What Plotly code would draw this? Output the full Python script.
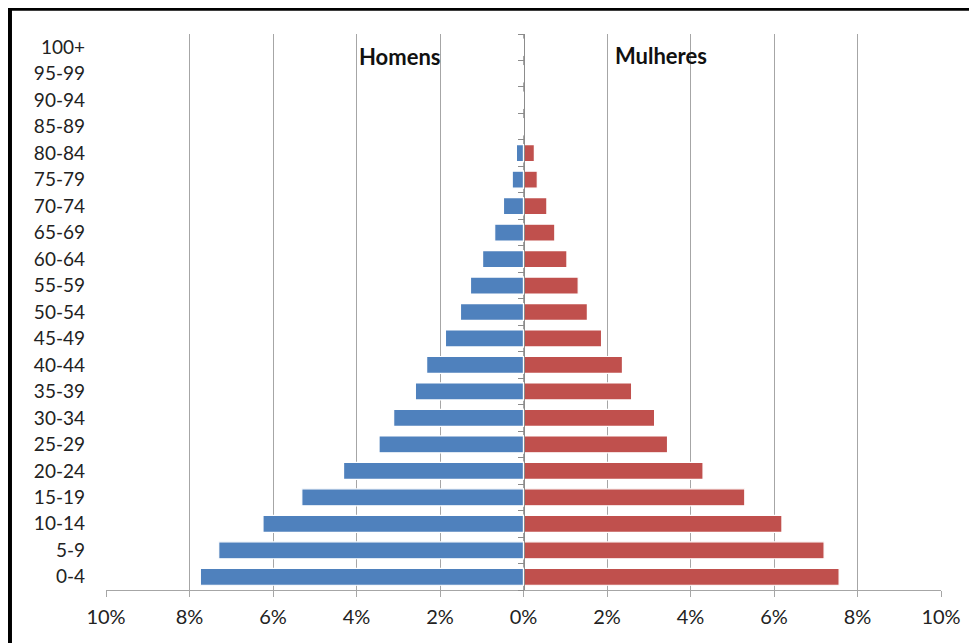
import plotly.graph_objects as go

age_groups = ["0-4", "5-9", "10-14", "15-19", "20-24", "25-29", "30-34", "35-39",
              "40-44", "45-49", "50-54", "55-59", "60-64", "65-69", "70-74", "75-79",
              "80-84", "85-89", "90-94", "95-99", "100+"]
homens = [7.74, 7.30, 6.24, 5.31, 4.31, 3.46, 3.11, 2.59, 2.32, 1.87, 1.51, 1.27,
          0.98, 0.69, 0.48, 0.27, 0.17, 0, 0, 0, 0]
mulheres = [7.56, 7.20, 6.19, 5.30, 4.30, 3.45, 3.14, 2.59, 2.37, 1.87, 1.53, 1.31,
            1.04, 0.75, 0.56, 0.33, 0.26, 0, 0, 0, 0]
x_ticks = [-10, -8, -6, -4, -2, 0, 2, 4, 6, 8, 10]
x_ticktext = ["10%", "8%", "6%", "4%", "2%", "0%", "2%", "4%", "6%", "8%", "10%"]

FONT = "Lato"
fig = go.Figure()
fig.add_trace(go.Bar(y=age_groups, x=[-v for v in homens], orientation="h",
                     name="Homens", marker=dict(color="#4F81BD", line=dict(color="white", width=1.2))))
fig.add_trace(go.Bar(y=age_groups, x=mulheres, orientation="h",
                     name="Mulheres", marker=dict(color="#C0504D", line=dict(color="white", width=1.2))))
# invisible trace to carry the centre axis with boundary ticks
fig.add_trace(go.Scatter(x=[0], y=[0], yaxis="y2", mode="markers",
                         marker=dict(opacity=0), showlegend=False, hoverinfo="skip"))

fig.update_layout(
    width=977, height=643,
    margin=dict(l=98, r=44, t=26, b=61),
    paper_bgcolor="white", plot_bgcolor="white",
    barmode="relative", bargap=0.36,
    showlegend=False,
    font=dict(family=FONT, size=16, color="#222"),
    xaxis=dict(range=[-10, 10], tickmode="array", tickvals=x_ticks, ticktext=x_ticktext,
               showgrid=True, gridcolor="#A6A6A6", gridwidth=1, zeroline=False,
               showline=True, linecolor="#A6A6A6", linewidth=1,
               ticks="outside", ticklen=6, tickcolor="#A6A6A6", ticklabelstandoff=3,
               tickfont=dict(family=FONT, size=20, color="#222"), fixedrange=True),
    yaxis=dict(type="category", categoryorder="array", categoryarray=age_groups,
               range=[-0.5, 20.5], showgrid=False, zeroline=False, showline=False,
               ticks="", ticklabelstandoff=20,
               tickfont=dict(family=FONT, size=19, color="#222"), fixedrange=True),
    yaxis2=dict(overlaying="y", anchor="free", position=0.5, side="left",
                range=[-0.5, 20.5], tickmode="array",
                tickvals=[i + 0.5 for i in range(-1, 21)],
                showticklabels=False, showgrid=False, zeroline=False,
                showline=True, linecolor="#8C8C8C", linewidth=1,
                ticks="outside", ticklen=6, tickcolor="#8C8C8C", fixedrange=True),
    annotations=[
        dict(x=-2.97, y=0.959, xref="x", yref="paper", text="<b>Homens</b>",
             xanchor="center", yanchor="middle",
             showarrow=False, font=dict(family=FONT, size=22, color="#111")),
        dict(x=3.30, y=0.961, xref="x", yref="paper", text="<b>Mulheres</b>",
             xanchor="center", yanchor="middle",
             showarrow=False, font=dict(family=FONT, size=22, color="#111")),
    ],
    shapes=[
        dict(type="rect", xref="paper", yref="paper",
             x0=-0.115, x1=1.08, y0=-0.15, y1=1.0455,
             line=dict(color="black", width=4), layer="above"),
    ],
)

fig.write_html("out.html")
